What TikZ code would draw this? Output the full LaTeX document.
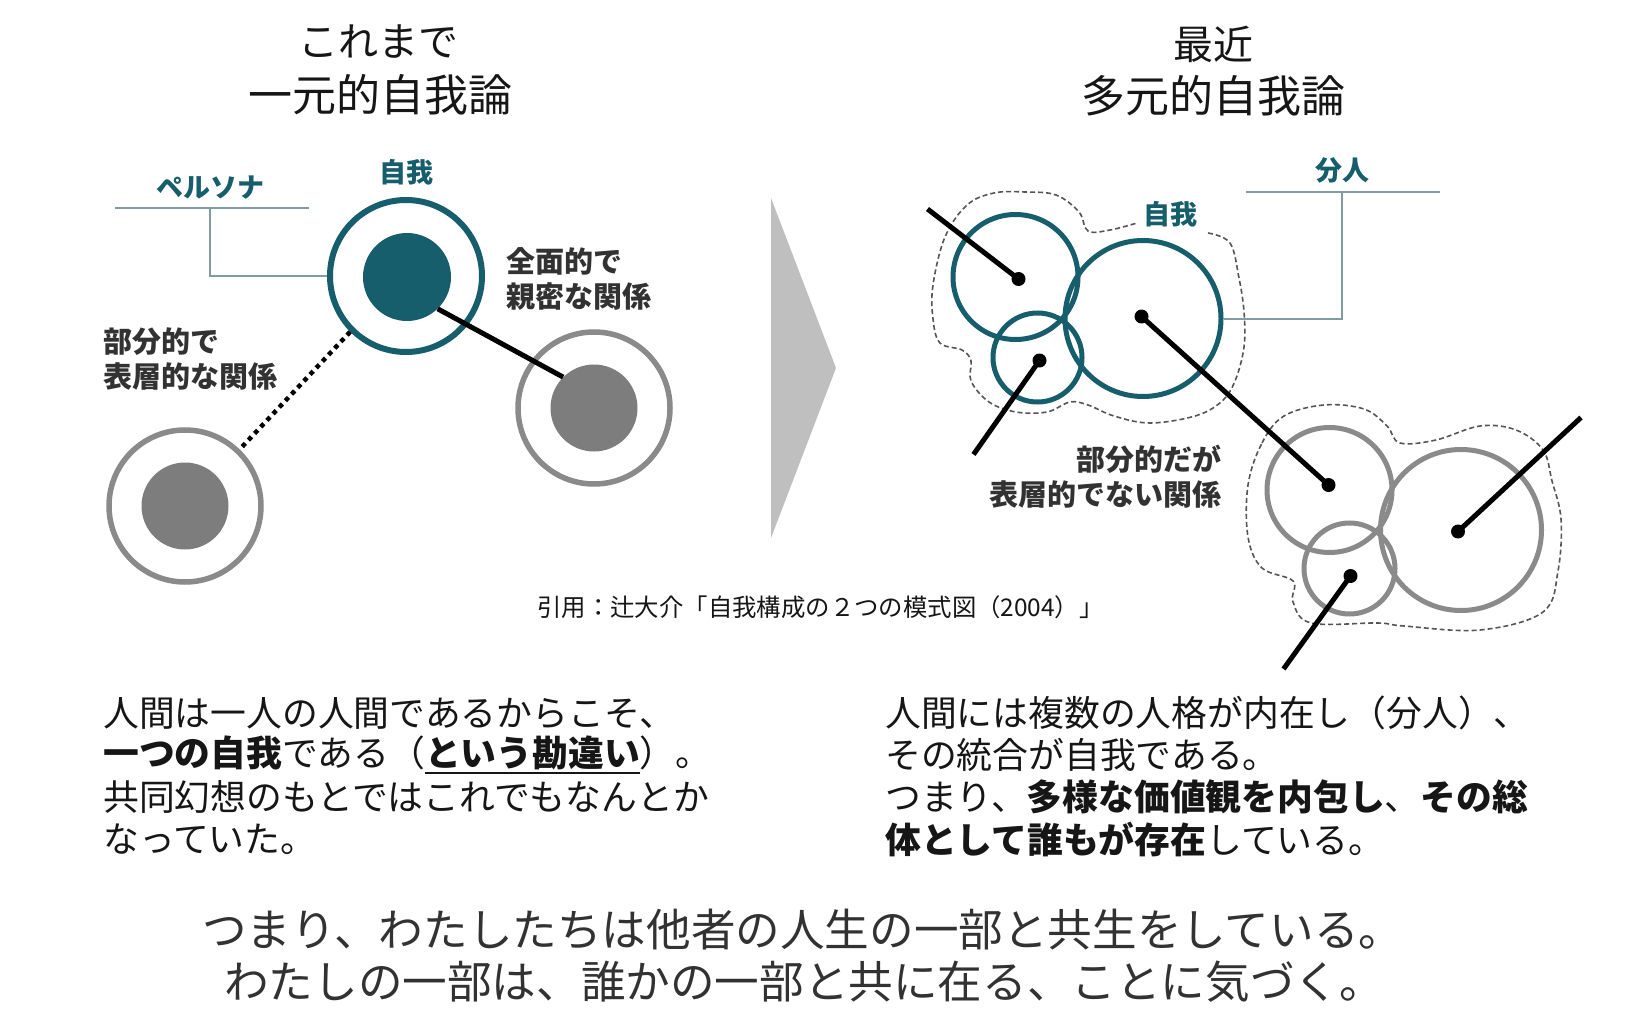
\documentclass[tikz,border=0pt]{standalone}
\usepackage{fontspec}
\setmainfont{Noto Sans CJK JP}
\definecolor{tealc}{RGB}{22,94,108}
\definecolor{grayring}{RGB}{138,138,138}
\definecolor{grayfill}{RGB}{125,125,125}
\definecolor{perscol}{RGB}{128,156,162}
\definecolor{arrowc}{RGB}{191,191,191}
\definecolor{txt}{RGB}{22,22,22}
\definecolor{lbl}{RGB}{50,50,50}
\definecolor{dashc}{RGB}{85,85,85}
\newcommand\myul[1]{\setbox0\hbox{#1}\rlap{\rule[-8pt]{\wd0}{2.2pt}}\box0}
\tikzset{
  ringteal/.style={circle, draw=tealc, line width=6pt, minimum size=#1, inner sep=0pt},
  ringgray/.style={circle, draw=grayring, line width=5.5pt, minimum size=#1, inner sep=0pt},
  coreteal/.style={circle, fill=tealc, minimum size=#1, inner sep=0pt},
  coregray/.style={circle, fill=grayfill, minimum size=#1, inner sep=0pt},
  cirteal/.style={circle, draw=tealc, line width=5pt, minimum size=#1, inner sep=0pt},
  cirgray/.style={circle, draw=grayring, line width=5pt, minimum size=#1, inner sep=0pt},
  dotnode/.style={circle, fill=black, minimum size=14pt, inner sep=0pt},
  conn/.style={line width=5pt, black},
  dotconn/.style={line width=4.5pt, black, dash pattern=on 4.5pt off 4.5pt},
  callout/.style={perscol, line width=2pt},
  outline/.style={dashc, line width=1.6pt, dash pattern=on 5pt off 3pt},
  teallbl/.style={font=\bfseries\fontsize{27}{30}\selectfont, text=tealc, inner sep=0pt},
  darklbl/.style={font=\bfseries\fontsize{29}{35}\selectfont, text=lbl, inner sep=0pt},
  titlea/.style={font=\fontsize{40}{44}\selectfont, text=txt, inner sep=0pt},
  titleb/.style={font=\fontsize{44}{48}\selectfont, text=txt, inner sep=0pt},
  bodytxt/.style={font=\fontsize{35.8}{40}\selectfont, text=txt, inner sep=0pt, anchor=west},
  bottomtxt/.style={font=\fontsize{44.6}{50}\selectfont, text=lbl, inner sep=0pt, anchor=west},
  citetxt/.style={font=\fontsize{24.4}{28}\selectfont, text=txt, inner sep=0pt, anchor=west},
}
\begin{document}
\begin{tikzpicture}[x=1pt,y=-1pt]
\useasboundingbox (0,0) rectangle (1638,1024);
\fill[white] (0,0) rectangle (1638,1024);

% titles
\node[titlea] (t1a) at (378,42) {これまで};
\node[titleb] (t1b) at (380,95) {一元的自我論};
\node[titlea] (t2a) at (1213,44) {最近};
\node[titleb] (t2b) at (1213,96) {多元的自我論};

% left diagram
\node[ringteal=152pt] (self) at (406,276) {};
\node[coreteal=88pt] (selfcore) at (407,277) {};
\node[ringgray=152pt] (rring) at (594,408) {};
\node[coregray=87pt] (rcore) at (594,408) {};
\node[ringgray=152pt] (lring) at (185,506) {};
\node[coregray=87pt] (lcore) at (185,506) {};
\draw[conn] (selfcore.-46) -- (rcore.135);
\draw[dotconn] (self.-135) -- (lring.46);

\node[teallbl] (selflbl) at (406,172) {自我};
\node[teallbl] (perslbl) at (210,188) {ペルソナ};
\coordinate (pl) at (115,208);
\coordinate (pr) at (309,208);
\coordinate (pm) at (210,208);
\draw[callout] (pl) -- (pr);
\draw[callout] (pm) |- (self.west);

\node[darklbl, anchor=west, align=left] (closelbl) at (506,279) {全面的で\\親密な関係};
\node[darklbl, anchor=west, align=left] (shallowlbl) at (103,359) {部分的で\\表層的な関係};

% arrow
\fill[arrowc] (771,198) -- (836,368) -- (771,538) -- cycle;

% right diagram: teal cluster
\draw[outline] plot[smooth, tension=0.6] coordinates {(1208,233) (1230,243) (1239,278) (1244,312) (1244,347) (1235,381) (1221,402) (1195,416) (1150,423) (1114,416) (1088,405) (1070,402) (1047,412) (1016,412) (989,402) (971,381) (971,361) (962,350) (940,343) (933,319) (933,285) (945,237) (967,205) (994,193) (1025,192) (1056,195) (1079,212) (1088,231) (1110,230) (1137,223)};
\node[cirteal=125pt] (ca) at (1015.5,277) {};
\node[cirteal=156pt] (cb) at (1143,318.5) {};
\node[cirteal=89pt] (cc) at (1037.5,357.5) {};
\node[teallbl] (selflbl2) at (1170,214) {自我};
\node[teallbl] (bunlbl) at (1342,170) {分人};
\coordinate (bl) at (1246,192);
\coordinate (br) at (1440,192);
\coordinate (bm) at (1342,192);
\draw[callout] (bl) -- (br);
\draw[callout] (bm) |- (cb.east);

% gray cluster
\draw[outline] plot[smooth cycle, tension=0.6] coordinates {(1248,485) (1262,443) (1284,416) (1324,405) (1364,409) (1387,426) (1400,443) (1436,440) (1480,426) (1516,430) (1543,450) (1552,481) (1561,519) (1558,571) (1543,612) (1480,630) (1404,626) (1378,623) (1311,623) (1293,602) (1293,581) (1262,568) (1248,537)};
\node[cirgray=125pt] (cd) at (1329.5,490) {};
\node[cirgray=161pt] (ce) at (1461,530) {};
\node[cirgray=91pt] (cf) at (1349.5,568.5) {};

% dots and connectors
\node[dotnode] (da) at (1018.5,279) {};
\node[dotnode] (dc) at (1039.5,360.5) {};
\node[dotnode] (db) at (1141.5,316.5) {};
\node[dotnode] (dd) at (1328.5,485) {};
\node[dotnode] (de) at (1458,531.5) {};
\node[dotnode] (df) at (1350.5,576) {};
\coordinate (ea) at (927.5,209);
\coordinate (ec) at (973.5,454.5);
\coordinate (ee) at (1581,417.5);
\coordinate (ef) at (1283.5,669);
\draw[conn] (ea) -- (da.center);
\draw[conn] (ec) -- (dc.center);
\draw[conn] (db.center) -- (dd.center);
\draw[conn] (ee) -- (de.center);
\draw[conn] (ef) -- (df.center);

\node[darklbl, anchor=east, align=right] (partlbl) at (1222,477) {部分的だが\\表層的でない関係};

% citation
\node[citetxt] (cite) at (537,607) {引用：辻大介「自我構成の２つの模式図（2004）」};

% body text left
\node[bodytxt] (l1) at (103,713) {人間は一人の人間であるからこそ、};
\node[bodytxt] (l2) at (103,755) {\textbf{一つの自我}である（\myul{\textbf{という勘違い}}）。};
\node[bodytxt] (l3) at (103,797) {共同幻想のもとではこれでもなんとか};
\node[bodytxt] (l4) at (103,839) {なっていた。};

% body text right
\node[bodytxt] (r1) at (885,713) {人間には複数の人格が内在し（分人）、};
\node[bodytxt] (r2) at (885,755) {その統合が自我である。};
\node[bodytxt] (r3) at (885,797) {つまり、\textbf{多様な価値観を内包し}、\textbf{その総}};
\node[bodytxt] (r4) at (885,839) {\textbf{体として誰もが存在}している。};

% bottom text
\node[bottomtxt] (b1) at (202,930) {つまり、わたしたちは他者の人生の一部と共生をしている。};
\node[bottomtxt] (b2) at (224,982) {わたしの一部は、誰かの一部と共に在る、ことに気づく。};
\end{tikzpicture}
\end{document}
